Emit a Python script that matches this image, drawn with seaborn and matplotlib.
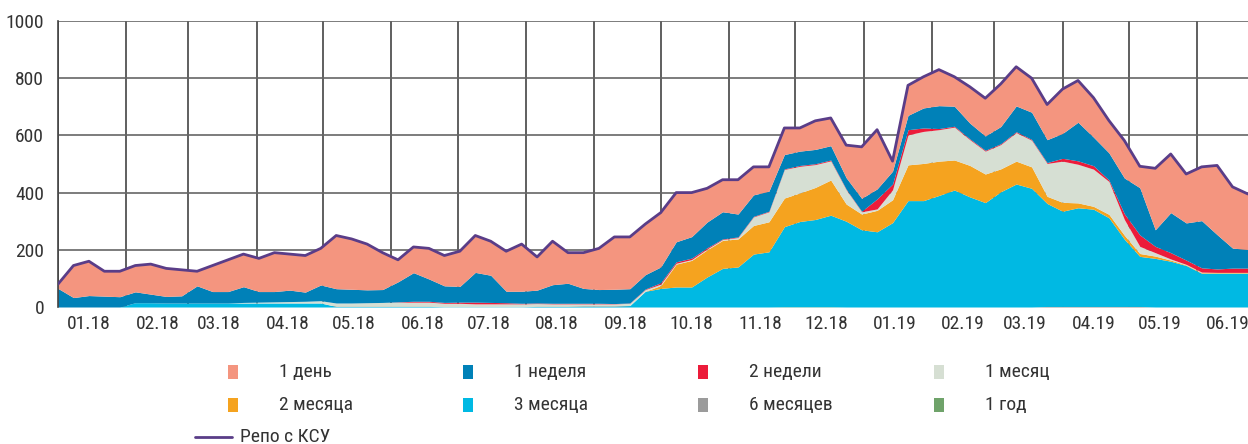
import pandas as pd
import matplotlib
matplotlib.use('Agg')
import matplotlib.pyplot as plt
import matplotlib.dates as mdates
from matplotlib import font_manager as fm
from matplotlib.patches import Rectangle
from matplotlib.lines import Line2D
import seaborn as sns

sns.set_theme(style='white')

# узкий шрифт, если найдётся
narrow = None
for key in ['LiberationSansNarrow-Regular', 'RobotoCondensed-Regular',
            'DejaVuSansCondensed.ttf', 'OpenSans_Condensed-Regular']:
    for f in fm.fontManager.ttflist:
        if key in f.fname:
            narrow = f
            break
    if narrow:
        break
if narrow is not None:
    plt.rcParams['font.family'] = [narrow.name, 'DejaVu Sans']
    plt.rcParams['font.stretch'] = narrow.stretch
    FS = 14
else:
    plt.rcParams['font.family'] = ['Roboto', 'DejaVu Sans']
    FS = 13

# недельные точки, млрд руб.
weeks = pd.date_range('2018-01-01', periods=78, freq='7D')

m3 = [0, 0, 0, 0, 0, 15, 15, 14, 14, 14, 14, 14, 14, 14, 14, 14, 14, 14, 2, 2,
      2, 2, 2, 2, 2, 1, 1, 1, 1, 1, 1, 2, 2, 2, 3, 3, 3, 5, 55, 65,
      70, 70, 105, 135, 140, 185, 193, 280, 298, 305, 320, 300, 270, 263, 295, 372, 372, 390, 409, 385,
      365, 403, 430, 415, 360, 333, 345, 340, 310, 235, 175, 170, 160, 145, 118, 118, 118, 118]
m2 = [0] * 39 + [10,
      80, 93, 95, 98, 98, 100, 105, 100, 100, 112, 123, 60, 55, 75, 80, 125, 130, 120, 105, 110,
      100, 80, 80, 75, 25, 31, 17, 10, 12, 14, 10, 8, 4, 2, 2, 2, 2, 2]
m1 = [0, 0, 0, 0, 0, 0, 0, 0, 0, 0, 0, 0, 2, 3, 4, 5, 6, 8, 12, 12,
      13, 14, 15, 15, 15, 12, 12, 10, 10, 10, 10, 10, 9, 9, 8, 8, 8, 8, 6, 5,
      3, 3, 3, 3, 5, 30, 35, 100, 93, 80, 67, 50, 8, 5, 35, 105, 112, 110, 115, 90,
      80, 85, 100, 93, 115, 144, 135, 130, 115, 55, 25, 12, 4, 2, 2, 1, 1, 1]
w2 = [0] * 22 + [1, 3, 3, 3, 4, 6, 5, 4, 2, 2, 2, 2, 2, 2, 1, 1, 2, 5,
      5, 5, 4, 2, 2, 2, 2, 2, 3, 3, 3, 2, 2, 35, 20, 18, 12, 4, 3, 3,
      3, 3, 3, 3, 3, 10, 12, 12, 5, 20, 40, 22, 22, 15, 15, 12, 15, 15]
w1 = [65, 33, 40, 38, 36, 38, 30, 23, 25, 60, 40, 40, 55, 37, 36, 40, 32, 55, 50, 48,
      45, 45, 70, 100, 78, 58, 55, 104, 95, 40, 42, 45, 65, 70, 52, 48, 50, 50, 50, 55,
      70, 75, 90, 95, 80, 75, 70, 50, 50, 50, 50, 40, 45, 35, 45, 50, 70, 80, 70, 55,
      50, 60, 90, 95, 80, 87, 135, 100, 95, 125, 165, 58, 140, 130, 165, 120, 70, 65]
d1 = [15, 112, 120, 87, 89, 92, 105, 98, 91, 51, 91, 111, 114, 116, 136, 126, 128, 128, 186, 176,
      160, 129, 77, 90, 107, 106, 123, 129, 119, 140, 165, 116, 152, 107, 125, 144, 183, 181, 177, 190,
      172, 154, 118, 112, 120, 98, 85, 93, 81, 100, 97, 114, 180, 207, 35, 105, 109, 126, 103, 127,
      132, 149, 137, 119, 123, 155, 146, 138, 113, 131, 75, 215, 205, 171, 188, 242, 214, 194]
m6 = [0] * 64 + [2, 2, 2, 2, 2, 2, 2] + [0] * 7
y1 = [0] * 47 + [1, 1, 1, 1] + [0] * 27

labels = ['1 день', '1 неделя', '2 недели', '1 месяц',
          '2 месяца', '3 месяца', '6 месяцев', '1 год']
colors = {'1 день': '#F4957F', '1 неделя': '#0081B8', '2 недели': '#EC1C3A',
          '1 месяц': '#D6DFD3', '2 месяца': '#F5A31F', '3 месяца': '#00B9E3',
          '6 месяцев': '#9B9B9B', '1 год': '#6FA36A'}

df = pd.DataFrame({'date': weeks, '1 год': y1, '6 месяцев': m6, '3 месяца': m3,
                   '2 месяца': m2, '1 месяц': m1, '2 недели': w2,
                   '1 неделя': w1, '1 день': d1})
stack_order = ['1 год', '6 месяцев', '3 месяца', '2 месяца', '1 месяц',
               '2 недели', '1 неделя', '1 день']
df['total'] = df[stack_order].sum(axis=1)

fig = plt.figure(figsize=(12.48, 4.44), dpi=100)
ax = fig.add_axes([58 / 1248, 1 - 307 / 444, 1 - 58 / 1248, (307 - 21) / 444])

ax.stackplot(df['date'], [df[c] for c in stack_order],
             colors=[colors[c] for c in stack_order], linewidth=0, zorder=2)
sns.lineplot(data=df, x='date', y='total', ax=ax, color='#5A3D88',
             linewidth=2, zorder=3)

ax.set_xlim(weeks[0], weeks[-1])
ax.set_ylim(0, 1000)
ax.set_yticks(range(0, 1001, 200))
ax.xaxis.set_major_locator(mdates.MonthLocator(bymonthday=15))
ax.xaxis.set_major_formatter(mdates.DateFormatter('%m.%y'))
ax.xaxis.set_minor_locator(mdates.MonthLocator(bymonthday=1))
ax.grid(which='minor', axis='x', color='#444444', linewidth=1.2, zorder=1)
ax.grid(which='major', axis='y', color='#666666', linewidth=1.2, zorder=1)
ax.grid(which='major', axis='x', visible=False)
ax.set_axisbelow(True)
ax.tick_params(axis='both', which='both', length=0, labelsize=FS,
               labelcolor='#333333')
ax.tick_params(axis='y', pad=10)
ax.tick_params(axis='x', pad=6)
ax.set_xlabel('')
ax.set_ylabel('')
for s in ['right', 'bottom', 'top']:
    ax.spines[s].set_visible(False)
ax.spines['left'].set_color('#444444')
ax.spines['left'].set_linewidth(1.2)

# легенда
col_x = [233, 468, 703, 939]
row_y = [372, 405]
for k, name in enumerate(labels):
    cx = col_x[k % 4]
    cy = row_y[k // 4]
    fig.add_artist(Rectangle(((cx - 5) / 1248, 1 - (cy + 7) / 444), 10 / 1248, 14 / 444,
                             transform=fig.transFigure, color=colors[name], lw=0))
    fig.text((cx + 46) / 1248, 1 - cy / 444, name, fontsize=FS, color='#333333',
             va='center', ha='left')
fig.add_artist(Line2D([195 / 1248, 232 / 1248], [1 - 437 / 444, 1 - 437 / 444],
                      transform=fig.transFigure, color='#5A3D88', linewidth=2))
fig.text(240 / 1248, 1 - 437 / 444, 'Репо с КСУ', fontsize=FS, color='#333333',
         va='center', ha='left')

fig.savefig('out.png', dpi=100)
